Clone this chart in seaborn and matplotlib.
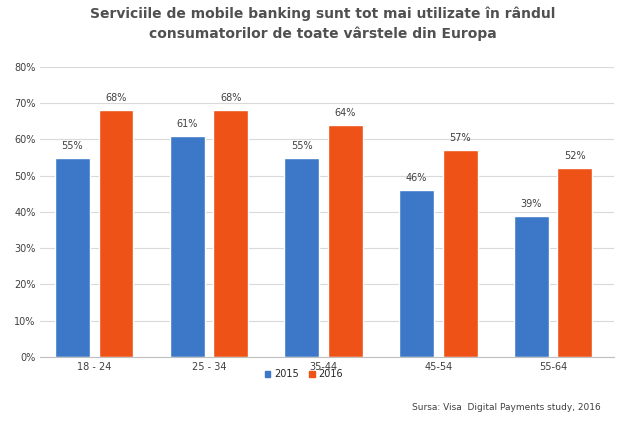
import pandas as pd
import matplotlib.pyplot as plt
import seaborn as sns
from matplotlib.patches import Patch

groups = ['18 - 24', '25 - 34', '35-44', '45-54', '55-64']
v2015 = [55, 61, 55, 46, 39]
v2016 = [68, 68, 64, 57, 52]

df = pd.DataFrame({
    'grupa': groups * 2,
    'an': ['2015'] * 5 + ['2016'] * 5,
    'val': v2015 + v2016,
})

sns.set_style('white')
fig = plt.figure(figsize=(6.2, 4.29), dpi=100)
ax = fig.add_axes([0.065, 0.168, 0.925, 0.676])
sns.barplot(data=df, x='grupa', y='val', hue='an', palette=['#3d78c8', '#ee5217'],
            width=0.76, gap=0.2, ax=ax, legend=False, saturation=1)

for cont in ax.containers:
    ax.bar_label(cont, labels=[f'{int(b.get_height())}%' for b in cont],
                 padding=5, fontsize=7, color='#404040')

ax.set_ylim(0, 80)
ax.set_xlim(-0.47, 4.53)
ax.set_yticks(range(0, 81, 10))
ax.set_yticklabels([f'{t}%' for t in range(0, 81, 10)], fontsize=7, color='#404040')
ax.tick_params(axis='x', labelsize=7, colors='#404040', length=0)
ax.tick_params(axis='y', length=0)
ax.yaxis.grid(True, color='#d9d9d9', lw=0.8)
ax.set_axisbelow(True)
for s in ['top', 'right', 'left']:
    ax.spines[s].set_visible(False)
ax.spines['bottom'].set_color('#bfbfbf')
ax.set_xlabel('')
ax.set_ylabel('')

fig.legend(handles=[Patch(color='#3d78c8', label='2015'), Patch(color='#ee5217', label='2016')],
           loc='center', bbox_to_anchor=(0.49, 0.128), ncol=2, frameon=False, fontsize=7,
           handlelength=0.6, handleheight=0.6, columnspacing=1.0, handletextpad=0.4)

fig.text(0.52, 0.945, 'Serviciile de mobile banking sunt tot mai utilizate în rândul\nconsumatorilor de toate vârstele din Europa',
         ha='center', va='center', fontsize=10, fontweight='bold', color='#505050', linespacing=1.5)
fig.text(0.665, 0.045, 'Sursa: Visa  Digital Payments study, 2016', fontsize=6.5, color='#404040')

fig.savefig('out.png', dpi=100)
